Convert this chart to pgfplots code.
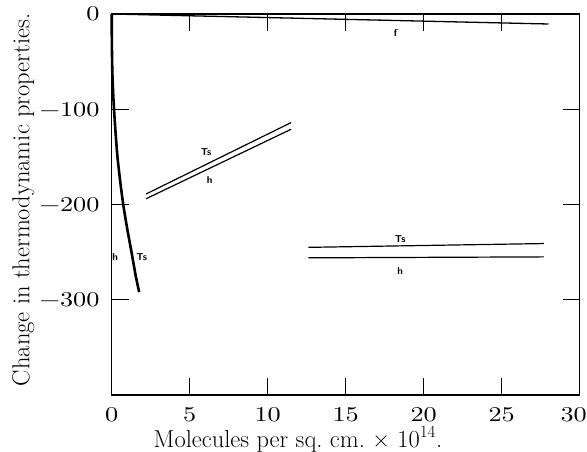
\documentclass[border=0pt]{standalone}
\usepackage{fontspec}
\newfontfamily\tickfont[FakeStretch=1.25]{lmroman10-regular.otf}
\usepackage{pgfplots}
\pgfplotsset{compat=1.18}
\begin{document}
\begin{tikzpicture}
\useasboundingbox (0,0) rectangle (587pt,452pt);
\begin{axis}[
  at={(111.7pt,57pt)}, anchor=south west,
  scale only axis, width=468pt, height=381pt,
  xmin=0, xmax=30, ymin=-400, ymax=0,
  xtick={0,5,...,30}, ytick={0,-100,-200,-300},
  xticklabels={0,5,10,15,20,25,{\hspace*{-12pt}30}},
  yticklabels={0,{−100},{−200},{−300}},
  tick align=inside, major tick length=17pt,
  tick style={line width=1.1pt, black},
  axis line style={line width=1.5pt},
  ticklabel style={font=\tickfont\fontsize{21}{24}\selectfont, inner sep=0pt},
  xticklabel style={anchor=base, yshift=-26.5pt},
  yticklabel style={anchor=east, xshift=-12pt},
  xlabel={Molecules per sq.\ cm.\ × 10\textsuperscript{14}.},
  ylabel={Change in thermodynamic properties.},
  label style={font=\fontsize{24.5}{27}\selectfont},
  xlabel style={at={(rel axis cs:0.398,-0.1365)}, anchor=base},
  ylabel style={at={(rel axis cs:-0.189,0.512)}, anchor=center},
  clip=false,
]
% f
\addplot[black, line width=1.3pt] coordinates {(0,0) (28,-10.5)};
% steep h/Ts curve
\addplot[black, line width=2.6pt, smooth] coordinates {(0,0) (0.01,-30) (0.04,-60) (0.09,-82) (0.15,-100) (0.25,-125) (0.37,-150) (0.54,-175) (0.74,-200) (0.99,-225) (1.27,-250) (1.53,-274) (1.76,-292)};
% middle pair
\addplot[black, line width=1.2pt] coordinates {(2.2,-189) (11.5,-114)};
\addplot[black, line width=1.2pt] coordinates {(2.2,-194) (11.5,-121)};
% right pair
\addplot[black, line width=1.2pt] coordinates {(12.6,-245) (27.7,-241)};
\addplot[black, line width=1.2pt] coordinates {(12.6,-256) (27.7,-255)};
% labels
\begin{scope}[every node/.style={font=\sffamily\bfseries\fontsize{10}{11}\selectfont, inner sep=0pt}]
\node at (axis cs:18.2,-20) {f};
\node at (axis cs:6.05,-145) {Ts};
\node at (axis cs:6.28,-174) {h};
\node at (axis cs:18.5,-236) {Ts};
\node at (axis cs:18.5,-270) {h};
\node at (axis cs:0.22,-255) {h};
\node at (axis cs:1.92,-255) {Ts};
\end{scope}
\end{axis}
\end{tikzpicture}
\end{document}
